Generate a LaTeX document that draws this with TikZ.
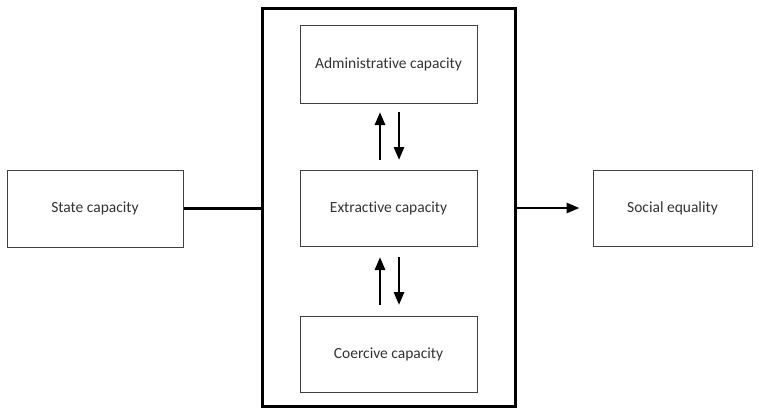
\documentclass[tikz,border=0pt]{standalone}
\usepackage{fontspec}
\setmainfont{Carlito}[Ligatures=NoCommon]
\usetikzlibrary{arrows.meta}
\begin{document}
\begin{tikzpicture}[x=1pt,y=-1pt,
  box/.style={draw=black!75,line width=1pt,fill=white,inner sep=0pt,font=\fontsize{15.5}{18}\selectfont,text=black!80},
  big/.style={draw=black,line width=3pt,inner sep=0pt},
  conn/.style={draw=black,line width=2.8pt},
  arr/.style={draw=black,line width=2.8pt,-{Triangle[length=13pt,width=10pt]}}]
\useasboundingbox (0,0) rectangle (759,408);
\node[big,minimum width=253pt,minimum height=398pt] (outer) at (388.5,207) {};
\node[box,minimum width=177pt,minimum height=78pt] (adm) at (388.5,64) {Administrative capacity};
\node[box,minimum width=177pt,minimum height=76pt] (ext) at (388.5,208) {Extractive capacity};
\node[box,minimum width=177pt,minimum height=76pt] (coe) at (388.5,354) {Coercive capacity};
\node[box,minimum width=176pt,minimum height=77pt] (state) at (95,208.5) {State capacity};
\node[box,minimum width=159pt,minimum height=76pt] (soc) at (672.5,208) {Social equality};
\draw[conn] (state.east) -- (state.east -| outer.west);
\draw[arr,shorten >=13pt] (ext.east -| outer.east) -- (soc.west);
\coordinate (u1s) at (380,160); \coordinate (u1e) at (380,112);
\coordinate (d1s) at (399,112); \coordinate (d1e) at (399,160);
\coordinate (u2s) at (380,305); \coordinate (u2e) at (380,257);
\coordinate (d2s) at (399,257); \coordinate (d2e) at (399,305);
\draw[arr] (u1s) -- (u1e);
\draw[arr] (d1s) -- (d1e);
\draw[arr] (u2s) -- (u2e);
\draw[arr] (d2s) -- (d2e);
\end{tikzpicture}
\end{document}
